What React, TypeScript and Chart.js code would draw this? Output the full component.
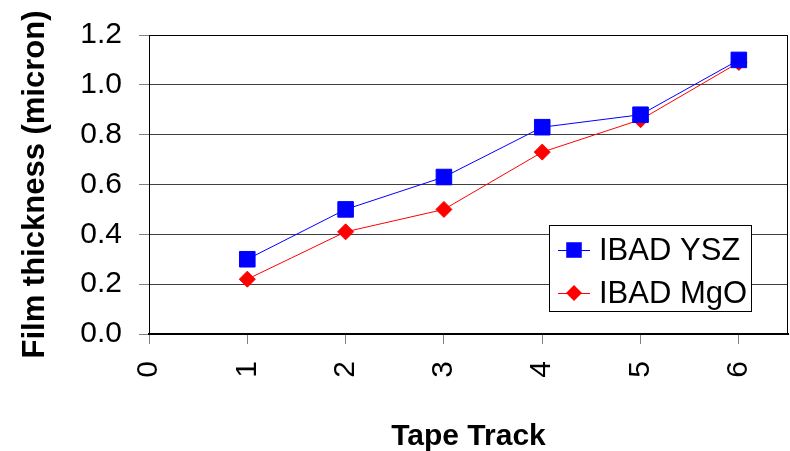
import React, { useEffect, useRef } from 'react';
import { Chart, registerables } from 'chart.js';

Chart.register(...registerables);

const TRACKS = [1, 2, 3, 4, 5, 6];
const YSZ = [0.30, 0.50, 0.63, 0.83, 0.88, 1.10];
const MGO = [0.22, 0.41, 0.50, 0.73, 0.86, 1.09];
const X_TICKS = [0, 1, 2, 3, 4, 5, 6];
const Y_TICKS = [0, 0.2, 0.4, 0.6, 0.8, 1.0, 1.2];
const SERIES_NAMES = ['IBAD YSZ', 'IBAD MgO'];
const SERIES_COLORS = ['#0000FF', '#FF0000'];
const SERIES_MARKERS = ['rect', 'rectRot'];
const X_TITLE = 'Tape Track';
const Y_TITLE = 'Film thickness (micron)';

const FONT = '"Liberation Sans", Arial, sans-serif';

const framePlugin = {
  id: 'frame',
  afterDraw(chart: any) {
    const { ctx, chartArea } = chart;
    ctx.save();
    ctx.strokeStyle = '#000';
    ctx.lineWidth = 1;
    ctx.beginPath();
    ctx.moveTo(chartArea.left, chartArea.top + 0.5);
    ctx.lineTo(chartArea.right - 0.5, chartArea.top + 0.5);
    ctx.lineTo(chartArea.right - 0.5, chartArea.bottom);
    ctx.stroke();
    ctx.restore();
  },
};

const boxLegendPlugin = {
  id: 'boxLegend',
  afterDraw(chart: any, _args: any, opts: any) {
    const { ctx } = chart;
    const { x, y, w, h, rowY, lineX0, lineX1, textX } = opts;
    ctx.save();
    ctx.fillStyle = '#fff';
    ctx.fillRect(x, y, w, h);
    ctx.strokeStyle = '#000';
    ctx.lineWidth = 1;
    ctx.strokeRect(x + 0.5, y + 0.5, w, h);
    chart.data.datasets.forEach((ds: any, i: number) => {
      const cy = rowY[i];
      ctx.strokeStyle = ds.borderColor;
      ctx.lineWidth = 1;
      ctx.beginPath();
      ctx.moveTo(lineX0, cy + 0.5);
      ctx.lineTo(lineX1, cy + 0.5);
      ctx.stroke();
      const cx = (lineX0 + lineX1) / 2;
      ctx.fillStyle = ds.backgroundColor;
      ctx.beginPath();
      if (ds.pointStyle === 'rect') {
        const s = ds.pointRadius * Math.SQRT1_2;
        ctx.rect(cx - s, cy - s, 2 * s, 2 * s);
      } else {
        const r = ds.pointRadius;
        ctx.moveTo(cx - r, cy);
        ctx.lineTo(cx, cy - r);
        ctx.lineTo(cx + r, cy);
        ctx.lineTo(cx, cy + r);
        ctx.closePath();
      }
      ctx.fill();
      ctx.fillStyle = '#000';
      ctx.font = `31px ${FONT}`;
      ctx.textBaseline = 'middle';
      ctx.textAlign = 'left';
      ctx.fillText(ds.label, textX, cy + 1);
    });
    ctx.restore();
  },
};

export default function App() {
  const ref = useRef<HTMLCanvasElement | null>(null);

  useEffect(() => {
    if (!ref.current) return;
    const seriesValues = [YSZ, MGO];
    const chart = new Chart(ref.current, {
      type: 'line',
      data: {
        datasets: SERIES_NAMES.map((name, i) => ({
          label: name,
          data: TRACKS.map((t, j) => ({ x: t, y: seriesValues[i][j] })),
          borderColor: SERIES_COLORS[i],
          backgroundColor: SERIES_COLORS[i],
          pointBackgroundColor: SERIES_COLORS[i],
          pointBorderColor: SERIES_COLORS[i],
          pointStyle: SERIES_MARKERS[i] as any,
          pointRadius: i === 0 ? 11 : 8,
          pointBorderWidth: 1,
          borderWidth: 1,
          tension: 0,
          fill: false,
        })),
      },
      options: {
        animation: false,
        responsive: true,
        maintainAspectRatio: false,
        layout: { autoPadding: false, padding: { top: 33, right: 2, left: 0, bottom: 0 } },
        plugins: {
          legend: { display: false },
          tooltip: { enabled: false },
          boxLegend: {
            x: 549, y: 225, w: 202, h: 86,
            rowY: [250, 293],
            lineX0: 558, lineX1: 590, textX: 599,
          },
        } as any,
        scales: {
          x: {
            type: 'linear',
            min: 0,
            max: 6.5,
            afterBuildTicks: (scale: any) => {
              scale.ticks = X_TICKS.map((v) => ({ value: v }));
            },
            afterFit: (scale: any) => {
              scale.height = 117;
              scale.paddingLeft = 0;
              scale.paddingRight = 0;
            },
            ticks: {
              autoSkip: false,
              minRotation: 90,
              maxRotation: 90,
              padding: 17,
              color: '#000',
              font: { family: FONT, size: 30 },
              callback: (v: any) => String(v),
            },
            grid: {
              drawOnChartArea: false,
              drawTicks: true,
              tickLength: 10,
              color: '#808080',
            },
            border: { display: true, color: '#000', width: 2 },
            title: {
              display: true,
              text: X_TITLE,
              color: '#000',
              font: { family: FONT, size: 30, weight: 'bold' },
              padding: { top: 0, bottom: -4 },
            },
          },
          y: {
            type: 'linear',
            min: 0,
            max: 1.2,
            afterBuildTicks: (scale: any) => {
              scale.ticks = Y_TICKS.map((v) => ({ value: v }));
            },
            afterFit: (scale: any) => {
              scale.width = 149;
            },
            ticks: {
              padding: 17,
              color: '#000',
              font: { family: FONT, size: 30 },
              callback: (v: any) => Number(v).toFixed(1),
            },
            grid: {
              color: '#404040',
              lineWidth: 1,
              drawTicks: true,
              tickLength: 10,
              tickColor: '#808080',
            },
            border: { display: true, color: '#000', width: 1 },
            title: {
              display: true,
              text: Y_TITLE,
              color: '#000',
              font: { family: FONT, size: 31, weight: 'bold' },
              padding: { top: 17, bottom: 0 },
            },
          },
        },
      },
      plugins: [framePlugin, boxLegendPlugin],
    });
    return () => chart.destroy();
  }, []);

  return (
    <div style={{ position: 'fixed', left: 0, top: 0, width: 790, height: 451, background: '#fff' }}>
      <canvas ref={ref} />
    </div>
  );
}
